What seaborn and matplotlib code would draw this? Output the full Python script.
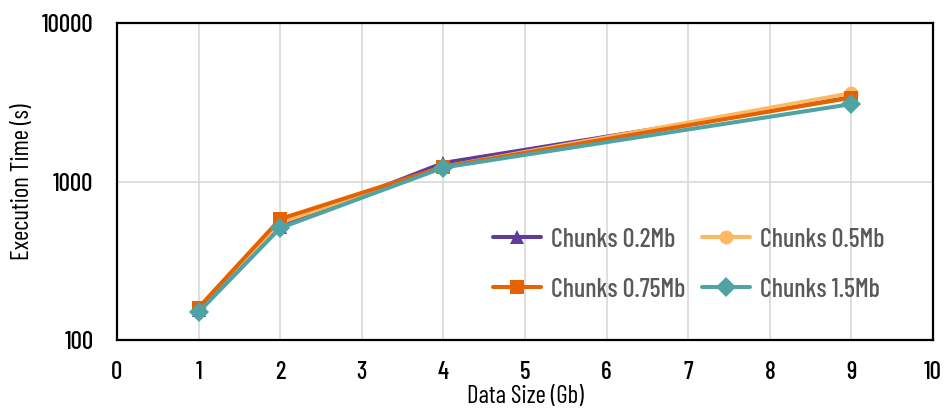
import matplotlib
matplotlib.use("Agg")
import matplotlib.pyplot as plt
import seaborn as sns
import pandas as pd
from matplotlib import font_manager

# Data sizes (Gb) and execution times (s) per chunk size
data_size = [1, 2, 4, 9]
chunks_02 = [155, 520, 1310, 3400]
chunks_05 = [158, 550, 1240, 3610]
chunks_075 = [160, 580, 1240, 3380]
chunks_15 = [150, 509, 1225, 3080]
series_names = ["Chunks 0.2Mb", "Chunks 0.5Mb", "Chunks 0.75Mb", "Chunks 1.5Mb"]
x_ticks = list(range(0, 11))
y_ticks = [100, 1000, 10000]

colors = ["#5E3C99", "#FDB863", "#E66101", "#4FA3A5"]
markers = ["^", "o", "s", "D"]

rows = []
for name, vals in zip(series_names, [chunks_02, chunks_05, chunks_075, chunks_15]):
    for x, v in zip(data_size, vals):
        rows.append({"size": x, "time": v, "series": name})
df = pd.DataFrame(rows)

sns.set_theme(style="white")
available = {f.name for f in font_manager.fontManager.ttflist}
family = "DejaVu Sans"
for cand in ["Barlow Condensed", "Roboto Condensed", "Archivo Narrow", "Open Sans Condensed"]:
    if cand in available:
        family = cand
        break
plt.rcParams["font.family"] = [family, "DejaVu Sans"]
plt.rcParams["font.weight"] = 500

fig = plt.figure(figsize=(9.48, 4.16), dpi=100)
ax = fig.add_axes([0.1234, 0.1827, 0.8608, 0.762])

sns.lineplot(
    data=df, x="size", y="time", hue="series", style="series",
    hue_order=series_names, style_order=series_names,
    palette=dict(zip(series_names, colors)),
    markers=dict(zip(series_names, markers)),
    dashes=False, linewidth=2.9, markersize=10, markeredgewidth=0,
    ax=ax, legend=True,
)

ax.set_yscale("log")
ax.set_ylim(100, 10000)
ax.set_xlim(0, 10)
ax.set_xticks(x_ticks)
ax.set_yticks(y_ticks)
ax.set_yticklabels([str(t) for t in y_ticks])
ax.minorticks_off()
ax.set_xticklabels([str(t) for t in x_ticks])
ax.tick_params(axis="x", labelsize=18, length=0, pad=15, colors="black")
ax.tick_params(axis="y", labelsize=18, length=0, pad=17, colors="black")
ax.grid(True, which="major", color="#D9D9D9", linewidth=1.2)
ax.set_axisbelow(True)
for s in ax.spines.values():
    s.set_color("black")
    s.set_linewidth(1.6)

ax.set_xlabel("Data Size (Gb)", fontsize=18, color="black", labelpad=1)
ax.set_ylabel("Execution Time (s)", fontsize=18, color="black", labelpad=5.5)

# Two-column legend, filled row by row
handles, labels = ax.get_legend_handles_labels()
order = [0, 2, 1, 3]
leg = ax.legend(
    [handles[i] for i in order], [labels[i] for i in order],
    loc="center left", bbox_to_anchor=(0.4608, 0.238), ncol=2, frameon=False,
    fontsize=18.7, handlelength=1.85, columnspacing=0.65, labelspacing=1.0,
    handletextpad=0.38, borderpad=0, borderaxespad=0,
)
for t in leg.get_texts():
    t.set_color("#595959")

fig.savefig("out.png", dpi=100)
